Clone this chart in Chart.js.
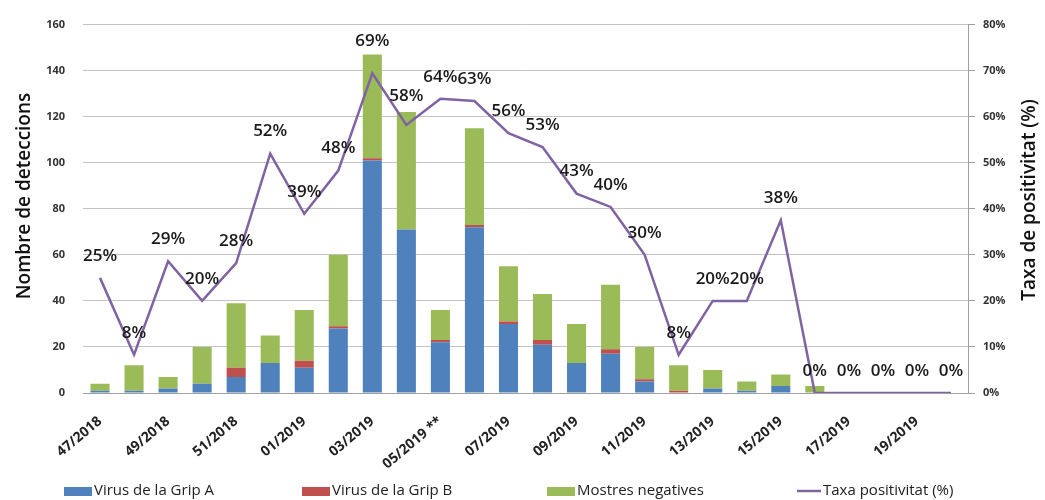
<!DOCTYPE html>
<html>
<head>
<meta charset="utf-8">
<script src="https://cdn.jsdelivr.net/npm/chart.js@4.4.1/dist/chart.umd.min.js"></script>
<style>
  html, body { margin: 0; padding: 0; background: #fff; }
</style>
</head>
<body>
<canvas id="gripChart" width="1045" height="500"></canvas>
<script>
// setmanes
const weeks = ["47/2018","48/2018","49/2018","50/2018","51/2018","52/2018",
  "01/2019","02/2019","03/2019","04/2019","05/2019 **","06/2019","07/2019","08/2019",
  "09/2019","10/2019","11/2019","12/2019","13/2019","14/2019","15/2019","16/2019",
  "17/2019","18/2019","19/2019","20/2019"];
const gripA = [1,1,2,4,7,13,11,28,101,71,22,72,30,21,13,17,5,0,2,1,3,0,0,0,0,0];
const gripB = [0,0,0,0,4,0,3,1,1,0,1,1,1,2,0,2,1,1,0,0,0,0,0,0,0,0];
const negatives = [3,11,5,16,28,12,22,31,45,51,13,42,24,20,17,28,14,11,8,4,5,3,0,0,0,0];
const positivity = [25,8.3,28.6,20,28.2,52,38.9,48.3,69.4,58.2,63.9,63.4,56.4,53.4,43.3,40.4,30,8.3,20,20,37.5,0,0,0,0,0];
const leftTicks = [0,20,40,60,80,100,120,140,160];
const rightTicks = ["0%","10%","20%","30%","40%","50%","60%","70%","80%"];

const FONT = "'Open Sans', 'Liberation Sans', sans-serif";
const COLORS = ["#4F81BD", "#C0504D", "#9BBB59", "#8064A2"];

// etiquetes de percentatge sobre la línia
const pctLabels = {
  id: "pctLabels",
  afterDatasetsDraw(chart) {
    const meta = chart.getDatasetMeta(3);
    const c = chart.ctx;
    c.save();
    c.font = "600 17px " + FONT;
    c.fillStyle = "#1a1a1a";
    c.textAlign = "center";
    c.textBaseline = "middle";
    meta.data.forEach((pt, i) => {
      let off = 22;
      if (i === 8) off = 32;
      if (i === 9) off = 29;
      c.fillText(Math.round(positivity[i]) + "%", pt.x, pt.y - off);
    });
    c.restore();
  }
};

// títols dels eixos i llegenda
const extras = {
  id: "extras",
  afterDraw(chart) {
    const c = chart.ctx;
    c.save();
    c.font = "600 19px " + FONT;
    c.fillStyle = "#111";
    c.textAlign = "center";
    c.textBaseline = "middle";
    c.translate(25, 196);
    c.rotate(-Math.PI / 2);
    c.fillText("Nombre de deteccions", 0, 0);
    c.restore();

    c.save();
    c.font = "600 19px " + FONT;
    c.fillStyle = "#111";
    c.textAlign = "center";
    c.textBaseline = "middle";
    c.translate(1030, 200);
    c.rotate(-Math.PI / 2);
    c.fillText("Taxa de positivitat (%)", 0, 0);
    c.restore();

    // llegenda
    const xs = [64, 302, 547, 797];
    const y = 491;
    c.save();
    c.font = "15px " + FONT;
    c.textBaseline = "middle";
    chart.data.datasets.forEach((ds, i) => {
      if (i === 3) {
        c.strokeStyle = COLORS[3];
        c.lineWidth = 2.5;
        c.beginPath();
        c.moveTo(xs[i], y);
        c.lineTo(xs[i] + 24, y);
        c.stroke();
        c.fillStyle = "#222";
        c.fillText(ds.label, xs[i] + 26, y);
      } else {
        c.fillStyle = COLORS[i];
        c.fillRect(xs[i], y - 4, 28, 9);
        c.fillStyle = "#222";
        c.fillText(ds.label, xs[i] + 30, y);
      }
    });
    c.restore();
  }
};

const ctx = document.getElementById("gripChart").getContext("2d");
new Chart(ctx, {
  type: "bar",
  data: {
    labels: weeks,
    datasets: [
      { label: "Virus de la Grip A", data: gripA, backgroundColor: COLORS[0], stack: "s", yAxisID: "y", order: 2 },
      { label: "Virus de la Grip B", data: gripB, backgroundColor: COLORS[1], stack: "s", yAxisID: "y", order: 2 },
      { label: "Mostres negatives", data: negatives, backgroundColor: COLORS[2], stack: "s", yAxisID: "y", order: 2 },
      { label: "Taxa positivitat (%)", type: "line", data: positivity, yAxisID: "y2",
        borderColor: COLORS[3], backgroundColor: COLORS[3], borderWidth: 2.5,
        pointRadius: 0, tension: 0, order: 1 }
    ]
  },
  options: {
    responsive: false,
    animation: false,
    layout: { padding: { top: 23, left: 0, right: 0, bottom: 20 } },
    datasets: { bar: { categoryPercentage: 1, barPercentage: 0.56 } },
    plugins: {
      tooltip: { enabled: false },
      legend: { display: false }
    },
    scales: {
      x: {
        stacked: true,
        afterFit: s => { s.height = 87; },
        grid: { display: false },
        border: { color: "#a0a0a0" },
        ticks: {
          autoSkip: false,
          maxRotation: 40, minRotation: 40,
          padding: 12,
          font: { family: FONT, size: 14, weight: "bold" },
          color: "#222",
          callback: function(v, i) { return i % 2 === 0 ? weeks[i] : ""; }
        }
      },
      y: {
        stacked: true,
        min: 0, max: 160,
        afterFit: s => { s.width = 83; },
        afterBuildTicks: s => { s.ticks = leftTicks.map(v => ({ value: v })); },
        grid: { color: "#c4c4c4", drawTicks: false },
        border: { display: false },
        ticks: { font: { family: FONT, size: 11, weight: "bold" }, color: "#333", padding: 18 }
      },
      y2: {
        position: "right",
        min: 0, max: 80,
        afterFit: s => { s.width = 77; },
        grid: { drawOnChartArea: false, drawTicks: true, tickLength: 7, tickColor: "#a0a0a0" },
        border: { display: true, color: "#a0a0a0" },
        ticks: {
          stepSize: 10,
          font: { family: FONT, size: 11, weight: "bold" }, color: "#333", padding: 8,
          callback: function(v, i) { return rightTicks[i]; }
        }
      }
    }
  },
  plugins: [pctLabels, extras]
});
</script>
</body>
</html>
